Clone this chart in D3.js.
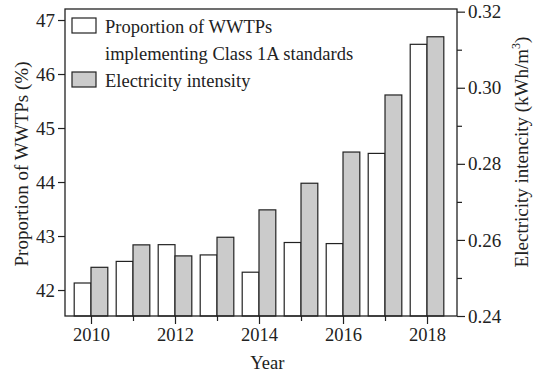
<!DOCTYPE html>
<html>
<head>
<meta charset="utf-8">
<script src="https://cdn.jsdelivr.net/npm/d3@7"></script>
<style>
  body { margin: 0; background: #fff; }
  svg text { font-family: "Liberation Serif", "Times New Roman", serif; fill: #222; }
</style>
</head>
<body>
<svg id="chart" width="533" height="372"></svg>
<script>
// data
const years = [2010, 2011, 2012, 2013, 2014, 2015, 2016, 2017, 2018];
const proportion = [42.13, 42.53, 42.84, 42.65, 42.33, 42.88, 42.86, 44.53, 46.55];
const intensity = [0.2528, 0.2587, 0.2558, 0.2607, 0.2679, 0.2749, 0.2831, 0.2981, 0.3134];
const leftTicks = [42, 43, 44, 45, 46, 47];
const rightTicks = [0.24, 0.26, 0.28, 0.30, 0.32];
const rightMinor = [0.25, 0.27, 0.29, 0.31];
const xTicks = [2010, 2012, 2014, 2016, 2018];
const xMinor = [2011, 2013, 2015, 2017];
const legendLabels = [["Proportion of WWTPs", "implementing Class 1A standards"], ["Electricity intensity"]];

const margin = {top: 9, right: 76, bottom: 56, left: 65},
      width = 533 - margin.left - margin.right,
      height = 372 - margin.top - margin.bottom;

const svg = d3.select("#chart").append("g").attr("transform", `translate(${margin.left},${margin.top})`);

const x = d3.scaleLinear().domain([2009.381, 2018.714]).range([0, width]);
const yL = d3.scaleLinear().domain([41.519, 47.204]).range([height, 0]);
const yR = d3.scaleLinear().domain([0.24, 0.3207]).range([height, 0]);
const barW = 0.4;
const stroke = "#222";

// bars: white left of the year, grey right of it
svg.selectAll(".bar-prop")
    .data(years)
    .enter().append("rect")
    .attr("x", (d) => x(d - barW))
    .attr("width", x(barW) - x(0))
    .attr("y", (d, i) => yL(proportion[i]))
    .attr("height", (d, i) => height - yL(proportion[i]))
    .attr("fill", "#fff")
    .attr("stroke", stroke)
    .attr("stroke-width", 1.2);

svg.selectAll(".bar-int")
    .data(years)
    .enter().append("rect")
    .attr("x", (d) => x(d))
    .attr("width", x(barW) - x(0))
    .attr("y", (d, i) => yR(intensity[i]))
    .attr("height", (d, i) => height - yR(intensity[i]))
    .attr("fill", "#cbcbcb")
    .attr("stroke", stroke)
    .attr("stroke-width", 1.2);

// axes
const axisStyle = (g, size) => {
    g.select(".domain").remove();
    g.selectAll("line").attr("stroke", stroke).attr("stroke-width", 1.2);
    g.selectAll("text").attr("font-size", size).attr("fill", "#222")
        .style("font-family", '"Liberation Serif", "Times New Roman", serif');
};

svg.append("g").attr("transform", `translate(0,${height})`)
    .call(d3.axisBottom(x).tickValues(xTicks).tickFormat(d3.format("d")).tickSize(8).tickPadding(4))
    .call(g => axisStyle(g, "18.5px"));
svg.append("g").attr("transform", `translate(0,${height})`)
    .call(d3.axisBottom(x).tickValues(xMinor).tickFormat("").tickSize(5))
    .call(g => axisStyle(g, "18.5px"));

svg.append("g")
    .call(d3.axisLeft(yL).tickValues(leftTicks).tickFormat(d3.format("d")).tickSize(7).tickPadding(3))
    .call(g => axisStyle(g, "19px"));

svg.append("g").attr("transform", `translate(${width},0)`)
    .call(d3.axisRight(yR).tickValues(rightTicks).tickFormat(d3.format(".2f")).tickSize(8).tickPadding(3))
    .call(g => axisStyle(g, "19px"));
svg.append("g").attr("transform", `translate(${width},0)`)
    .call(d3.axisRight(yR).tickValues(rightMinor).tickFormat("").tickSize(5))
    .call(g => axisStyle(g, "19px"));

// frame
svg.append("rect")
    .attr("width", width).attr("height", height)
    .attr("fill", "none").attr("stroke", stroke).attr("stroke-width", 1.3);

// axis titles
svg.append("text")
    .attr("x", x(2014.2)).attr("y", height + 53)
    .attr("text-anchor", "middle").attr("font-size", "18.5px")
    .text("Year");

svg.append("text")
    .attr("transform", "rotate(-90)")
    .attr("x", -155).attr("y", -37)
    .attr("text-anchor", "middle").attr("font-size", "19px")
    .text("Proportion of WWTPs (%)");

const rt = svg.append("text")
    .attr("transform", "rotate(-90)")
    .attr("x", -143).attr("y", width + 71)
    .attr("text-anchor", "middle").attr("font-size", "19px");
rt.append("tspan").text("Electricity intencity (kWh/m");
rt.append("tspan").attr("font-size", "12px").attr("dy", -8).text("3");
rt.append("tspan").attr("dy", 8).text(")");

// legend
const legend = svg.append("g").attr("transform", "translate(7,9)");
const fills = ["#fff", "#cbcbcb"];
const rowY = [0, 54];
legend.selectAll("rect")
    .data(fills)
    .enter().append("rect")
    .attr("x", 0)
    .attr("y", (d, i) => rowY[i])
    .attr("width", 24)
    .attr("height", 15)
    .attr("fill", d => d)
    .attr("stroke", stroke)
    .attr("stroke-width", 1.2);

legendLabels.forEach((lines, i) => {
    lines.forEach((t, j) => {
        legend.append("text")
            .attr("x", 33)
            .attr("y", rowY[i] + 15 + j * 27)
            .attr("font-size", "18.5px")
            .text(t);
    });
});
</script>
</body>
</html>
